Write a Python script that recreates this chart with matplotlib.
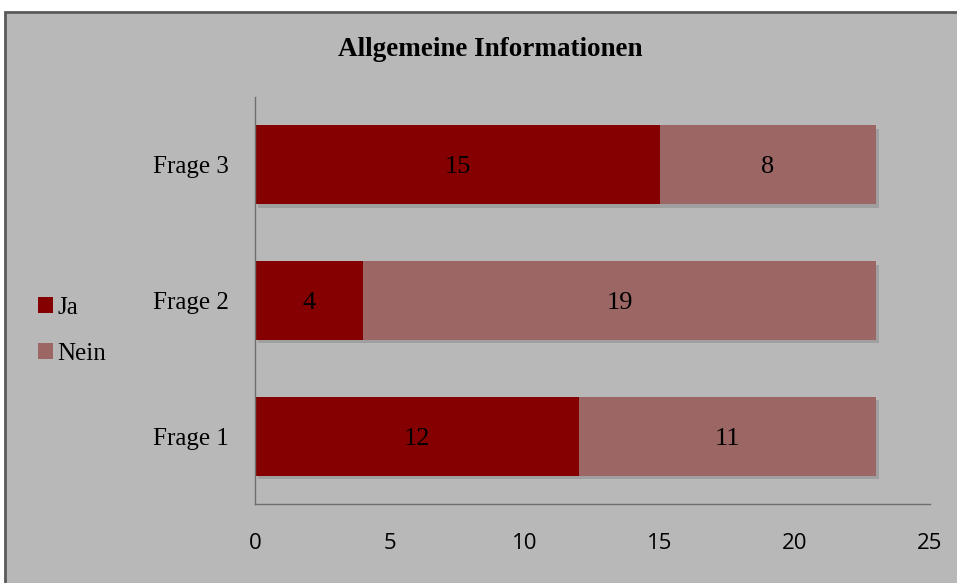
import matplotlib
matplotlib.use("Agg")
import matplotlib.pyplot as plt
import matplotlib.patheffects as pe
from matplotlib.patches import Rectangle, Patch

categories = ["Frage 1", "Frage 2", "Frage 3"]
ja = [12, 4, 15]
nein = [11, 19, 8]
xticks = [0, 5, 10, 15, 20, 25]
title = "Allgemeine Informationen"

ja_color = "#850000"
nein_color = "#9b6664"
bg = "#b8b8b8"

fig = plt.figure(figsize=(9.57, 5.83), dpi=100)
fig.patch.set_facecolor("white")
# grey chart area with dark border (cut off at right/bottom)
fig.patches.append(Rectangle((5 / 957, -0.05), 1.0, (583 - 12) / 583 + 0.05,
                             transform=fig.transFigure, facecolor=bg,
                             edgecolor="#5a5a5a", linewidth=2, zorder=-5))

ax = fig.add_axes([255 / 957, (583 - 504) / 583, (930 - 255) / 957, (504 - 97) / 583])
ax.set_facecolor("none")
ax.set_zorder(2)

shadow = [pe.SimplePatchShadow(offset=(2, -2.5), shadow_rgbFace="#555555", alpha=0.25), pe.Normal()]
y = range(len(categories))
ax.barh(y, ja, height=0.58, color=ja_color, path_effects=shadow)
ax.barh(y, nein, left=ja, height=0.58, color=nein_color, path_effects=shadow)

for i in y:
    ax.text(ja[i] / 2, i, str(ja[i]), ha="center", va="center_baseline",
            fontsize=19, family="Liberation Serif", color="black")
    ax.text(ja[i] + nein[i] / 2, i, str(nein[i]), ha="center", va="center_baseline",
            fontsize=19, family="Liberation Serif", color="black")

ax.set_xlim(0, 25)
ax.set_ylim(-0.5, 2.5)
ax.set_xticks(xticks)
ax.set_xticklabels([str(t) for t in xticks], family="Open Sans", fontsize=16)
ax.set_yticks(list(y))
ax.set_yticklabels(categories, family="Liberation Serif", fontsize=18)
ax.tick_params(axis="both", length=0)
ax.tick_params(axis="x", pad=21)
ax.tick_params(axis="y", pad=19)
for s in ["top", "right"]:
    ax.spines[s].set_visible(False)
for s in ["left", "bottom"]:
    ax.spines[s].set_color("#6e6e6e")
    ax.spines[s].set_linewidth(1)

fig.text(490 / 957, 1 - 50 / 583, title, ha="center", va="center",
         fontsize=19.5, fontweight="bold", family="Liberation Serif")

handles = [Patch(facecolor=ja_color), Patch(facecolor=nein_color)]
fig.legend(handles=handles, labels=["Ja", "Nein"], loc="center left",
           bbox_to_anchor=(38 / 957, 1 - 331 / 583), frameon=False,
           borderpad=0, borderaxespad=0,
           prop={"family": "Liberation Serif", "size": 18},
           handlelength=0.6, handleheight=0.6, handletextpad=0.17,
           labelspacing=0.95)

fig.savefig("out.png", dpi=100, facecolor=fig.get_facecolor())
